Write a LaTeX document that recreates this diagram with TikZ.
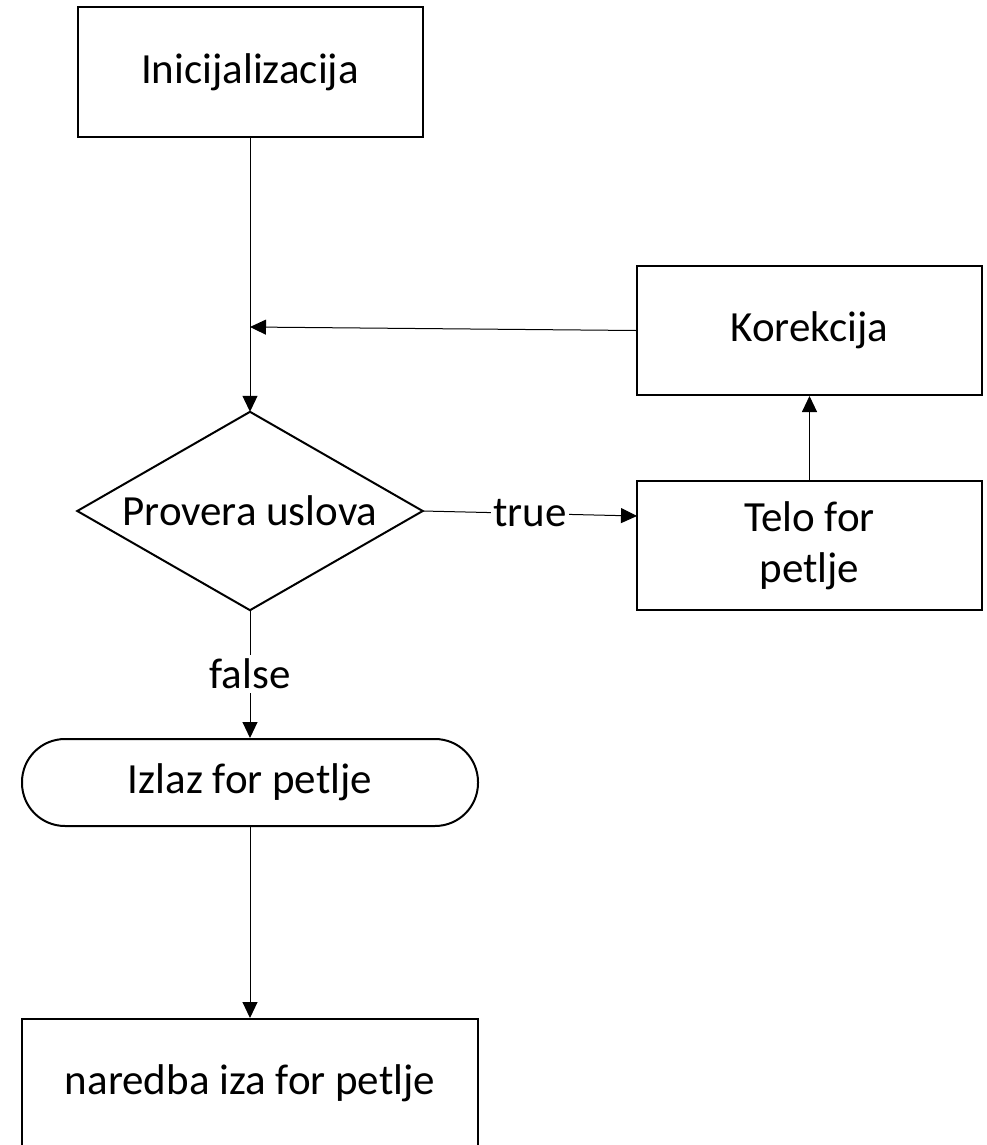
\documentclass[tikz,border=0pt]{standalone}
\usepackage{fontspec}
\setmainfont{Carlito}
\usetikzlibrary{arrows.meta,calc}
\begin{document}
\begin{tikzpicture}[x=1pt,y=-1pt,
  every node/.style={font=\fontsize{43}{51}\selectfont, inner sep=0pt},
  box/.style={draw, line width=2pt, rectangle, minimum width=345pt, minimum height=129pt, align=center},
  term/.style={draw, line width=2pt, rectangle, rounded corners=43pt, minimum width=456pt, minimum height=87pt},
  conn/.style={line width=1pt, -{Triangle[length=16pt,width=15pt]}},
  lbl/.style={fill=white, inner sep=2pt}]
\clip (0,0) rectangle (987,1145);
\useasboundingbox (0,0) rectangle (987,1145);
\node[box] (init) at (250,72) {Inicijalizacija};
\node[box] (kor) at (809.5,330.5) {Korekcija};
\node[box] (telo) at (809.5,545.5) {Telo for\\petlje};
\node[minimum width=345pt, minimum height=198pt] (cond) at (250,511) {Provera uslova};
\draw[line width=2pt, line join=miter] (cond.north) -- (cond.east) -- (cond.south) -- (cond.west) -- cycle;
\node[term] (exit) at (250,782.5) {Izlaz for petlje};
\node[box, minimum width=456pt] (next) at (250,1083.5) {naredba iza for petlje};
\coordinate (join) at (250,327);
\coordinate (tin) at (637,516);
\draw[conn] (init.south) -- (cond.north);
\draw[conn] (kor.west) -- (join);
\draw[conn] (cond.east) -- node[lbl] {true} (tin);
\draw[conn] (telo.north) -- (kor.south);
\draw[conn] (cond.south) -- node[lbl, pos=0.5, inner sep=4pt] {false} (exit.north);
\draw[conn] (exit.south) -- (next.north);
\end{tikzpicture}
\end{document}
